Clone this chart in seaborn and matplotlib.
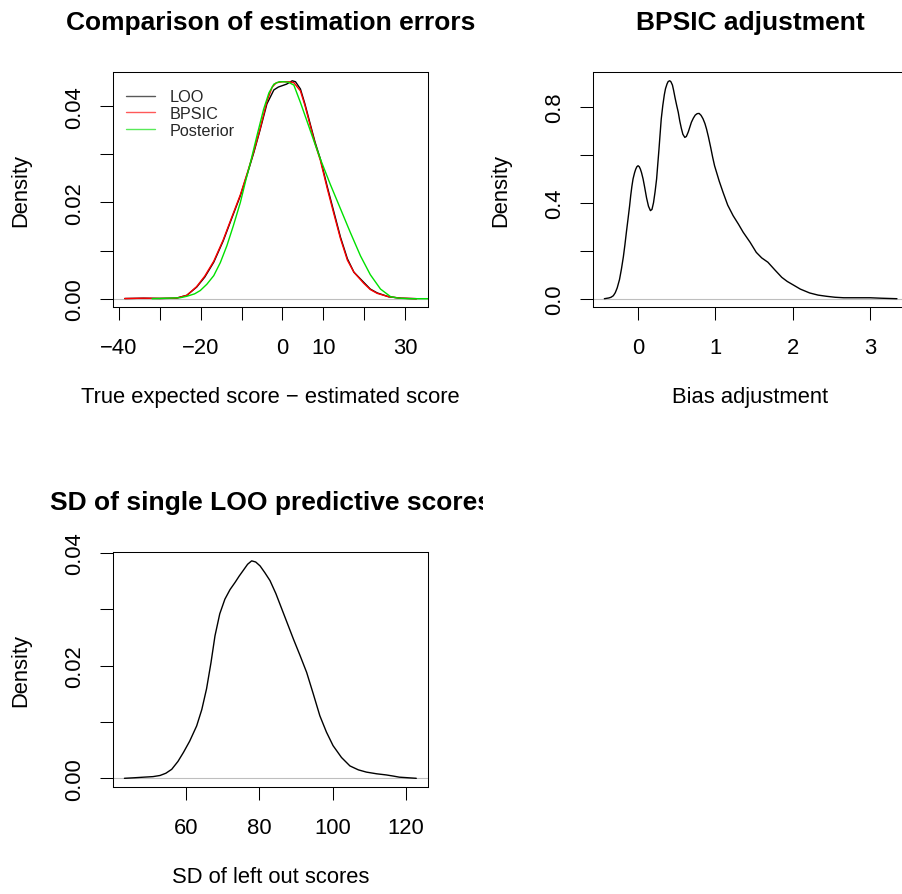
import numpy as np
import pandas as pd
import matplotlib
matplotlib.use("Agg")
import matplotlib.pyplot as plt
import seaborn as sns
from matplotlib.transforms import Bbox, TransformedBbox

# ---- estimation error densities (x, density) ----
loo_x = [-38.6, -34, -30, -26, -23.4, -21, -19, -16.8, -14.5, -12.5, -10.3, -8.5, -7.0, -5.5,
         -3.8, -2.1, -1.0, 0.0, 1.0, 2.4, 3.2, 4.4, 5.5, 6.9, 8.0, 9.3, 11.0, 12.6, 14.2, 15.9,
         17.5, 19.9, 21.5, 23.2, 26.0, 29.0, 32.8]
loo_y = [0.00003, 0.0001, 0.00005, 0.0001, 0.0007, 0.0024, 0.0045, 0.0076, 0.0120, 0.0165,
         0.0214, 0.0262, 0.0304, 0.0350, 0.0405, 0.0434, 0.0440, 0.0443, 0.0446, 0.0453,
         0.0451, 0.0436, 0.0405, 0.0360, 0.0325, 0.0290, 0.0232, 0.0180, 0.0128, 0.0083,
         0.0055, 0.0034, 0.0020, 0.0012, 0.0004, 0.0001, 0.0000]

bpsic_x = [-38.6, -34, -30, -26, -23.4, -21, -19, -16.8, -14.5, -12.5, -10.3, -8.5, -7.0, -5.5,
           -3.8, -2.5, -1.5, 0.0, 1.5, 2.8, 4.4, 5.5, 6.9, 8.0, 9.3, 11.0, 12.6, 14.2, 15.9,
           17.5, 19.9, 21.5, 23.2, 26.0, 29.0, 32.8]
bpsic_y = [0.00003, 0.0001, 0.00005, 0.0001, 0.0007, 0.0025, 0.0047, 0.0078, 0.0122, 0.0167,
           0.0216, 0.0264, 0.0306, 0.0352, 0.0410, 0.0440, 0.0449, 0.0451, 0.0451, 0.0449,
           0.0432, 0.0402, 0.0357, 0.0322, 0.0287, 0.0228, 0.0176, 0.0125, 0.0080, 0.0055,
           0.0032, 0.0019, 0.0011, 0.0004, 0.0001, 0.0000]

post_x = [-31.9, -28, -25, -23.4, -21.5, -20.1, -18.5, -16.8, -15.2, -13.6, -12.0, -10.3, -9.0,
          -7.8, -6.2, -4.6, -3.3, -2.1, -0.8, 0.3, 1.5, 2.8, 4.4, 6.1, 7.7, 9.3, 11.7, 14.2,
          16.6, 19.1, 21.5, 24.0, 26.5, 28.5, 31.0, 35.7]
post_y = [0.0000, 0.0001, 0.0002, 0.0005, 0.0010, 0.0017, 0.0030, 0.0048, 0.0075, 0.0110,
          0.0152, 0.0200, 0.0245, 0.0284, 0.0340, 0.0394, 0.0428, 0.0446, 0.0451, 0.0451,
          0.0450, 0.0444, 0.0408, 0.0367, 0.0328, 0.0290, 0.0238, 0.0187, 0.0138, 0.0089,
          0.0050, 0.0020, 0.0004, 0.0001, 0.0000, 0.0000]

# ---- BPSIC bias adjustment density ----
bias_x = [-0.436, -0.38, -0.35, -0.32, -0.295, -0.27, -0.24, -0.215, -0.19, -0.17, -0.15,
          -0.13, -0.11, -0.095, -0.08, -0.065, -0.045, -0.03, -0.015, 0.0, 0.015, 0.03, 0.045,
          0.065, 0.085, 0.11, 0.135, 0.16, 0.18, 0.20, 0.22, 0.24, 0.255, 0.27, 0.285, 0.30,
          0.32, 0.34, 0.355, 0.375, 0.39, 0.41, 0.425, 0.445, 0.46, 0.48, 0.50, 0.52, 0.54,
          0.56, 0.58, 0.605, 0.625, 0.65, 0.67, 0.69, 0.715, 0.74, 0.765, 0.79, 0.815, 0.84,
          0.865, 0.886, 0.91, 0.94, 0.965, 0.99, 1.05, 1.10, 1.16, 1.23, 1.30, 1.36, 1.45,
          1.53, 1.60, 1.68, 1.77, 1.86, 1.93, 2.01, 2.10, 2.22, 2.33, 2.44, 2.55, 2.66, 2.85,
          3.0, 3.15, 3.35]
bias_y = [0.0, 0.003, 0.006, 0.0125, 0.025, 0.045, 0.08, 0.124, 0.175, 0.225, 0.28, 0.332,
          0.385, 0.43, 0.468, 0.499, 0.525, 0.54, 0.55, 0.554, 0.55, 0.54, 0.525, 0.499,
          0.465, 0.42, 0.385, 0.367, 0.372, 0.40, 0.445, 0.499, 0.56, 0.62, 0.685, 0.749,
          0.805, 0.85, 0.875, 0.895, 0.905, 0.908, 0.904, 0.89, 0.868, 0.835, 0.805, 0.777,
          0.74, 0.71, 0.685, 0.672, 0.676, 0.695, 0.715, 0.735, 0.752, 0.765, 0.771, 0.772,
          0.764, 0.750, 0.730, 0.707, 0.675, 0.63, 0.59, 0.554, 0.49, 0.443, 0.39, 0.346,
          0.31, 0.277, 0.235, 0.193, 0.170, 0.152, 0.12, 0.089, 0.072, 0.057, 0.04, 0.024,
          0.015, 0.01, 0.006, 0.004, 0.004, 0.004, 0.002, 0.0]

# ---- SD of left-out scores density ----
sd_x = [43.2, 46, 48.4, 51, 52.9, 54.5, 56.1, 57.8, 59.3, 61, 62.9, 64.3, 65.6, 66.8, 67.9,
        69.2, 70.6, 72, 73.4, 74.5, 75.6, 76.8, 77.9, 79, 80.2, 81.5, 82.9, 84.5, 86.1, 87.7,
        89.3, 91.1, 92.9, 94.7, 96.5, 98.3, 100.1, 102.4, 104.7, 107, 109.2, 112, 114.6,
        116.5, 118.2, 120.5, 122.8]
sd_y = [0.0000, 0.0001, 0.0002, 0.0003, 0.0005, 0.0009, 0.0016, 0.0030, 0.0046, 0.0066,
        0.0093, 0.0122, 0.0159, 0.0205, 0.0253, 0.0292, 0.0318, 0.0335, 0.0348, 0.0359,
        0.0369, 0.0380, 0.0386, 0.0384, 0.0377, 0.0365, 0.0351, 0.0328, 0.0301, 0.0274,
        0.0247, 0.0218, 0.0188, 0.0150, 0.0111, 0.0082, 0.0058, 0.0037, 0.0022, 0.0015,
        0.0011, 0.0008, 0.0006, 0.0004, 0.0002, 0.0001, 0.0000]

methods = ["LOO", "BPSIC", "Posterior"]
method_colors = {"LOO": "black", "BPSIC": "#ff0000", "Posterior": "#00e000"}

titles = ["Comparison of estimation errors", "BPSIC adjustment",
          "SD of single LOO predictive scores"]
xlabels = ["True expected score \u2212 estimated score", "Bias adjustment",
           "SD of left out scores"]

sns.set_style("ticks")
plt.rcParams["font.family"] = ["Liberation Sans", "DejaVu Sans"]
plt.rcParams["lines.solid_joinstyle"] = "round"

W, H = 902, 895
fig = plt.figure(figsize=(W / 100, H / 100), dpi=100)


def place(left, top, width, height):
    return [left / W, 1 - (top + height) / H, width / W, height / H]


ax1 = fig.add_axes(place(112.7, 72.7, 315.6, 235.3))
ax2 = fig.add_axes(place(592.7, 72.7, 315.6, 235.0))
ax3 = fig.add_axes(place(112.7, 553.3, 315.6, 234.4))

FS = 15.8

# panel 1: three density curves
err_df = pd.concat([
    pd.DataFrame({"x": loo_x, "density": loo_y, "method": "LOO"}),
    pd.DataFrame({"x": bpsic_x, "density": bpsic_y, "method": "BPSIC"}),
    pd.DataFrame({"x": post_x, "density": post_y, "method": "Posterior"}),
], ignore_index=True)
sns.lineplot(data=err_df, x="x", y="density", hue="method", hue_order=methods,
             palette=method_colors, sort=False, estimator=None, units="method",
             lw=1.0, ax=ax1)

sns.lineplot(x=bias_x, y=bias_y, color="black", lw=1.0, sort=False, estimator=None, ax=ax2)
sns.lineplot(x=sd_x, y=sd_y, color="black", lw=1.0, sort=False, estimator=None, ax=ax3)


def style(ax, xlim, ylim, xticks, xticklabels, yticks, yticklabels, title, xlabel, height):
    ax.axhline(0, color="#BEBEBE", lw=0.8, zorder=1.5)
    ax.set_xlim(xlim)
    ax.set_ylim(ylim)
    ax.set_xticks(xticks)
    ax.set_xticklabels(xticklabels)
    ax.set_yticks(yticks)
    ax.set_yticklabels(yticklabels, rotation=90, va="center")
    ax.tick_params(direction="out", length=9.4, width=0.75, color="black",
                   labelsize=FS, labelcolor="black")
    ax.tick_params(axis="x", pad=12.5)
    ax.tick_params(axis="y", pad=10.5)
    for s in ax.spines.values():
        s.set_visible(True)
        s.set_linewidth(0.75)
        s.set_color("black")
    ax.set_title(title, fontsize=19, fontweight="bold", pad=31, color="black")
    ax.set_xlabel(xlabel, fontsize=FS, color="black")
    ax.set_ylabel("Density", fontsize=FS, color="black")
    ax.xaxis.set_label_coords(0.5, -90 / height)
    ax.xaxis.label.set_verticalalignment("center")
    ax.yaxis.set_label_coords(-92 / 315.6, 0.5)
    ax.yaxis.label.set_verticalalignment("center")


style(ax1, (-41.54, 35.70), (-0.00173, 0.04719),
      [-40, -30, -20, -10, 0, 10, 20, 30],
      ["\u221240", "", "\u221220", "", "0", "10", "", "30"],
      [0, 0.01, 0.02, 0.03, 0.04], ["0.00", "", "0.02", "", "0.04"],
      titles[0], xlabels[0], 235.3)
style(ax2, (-0.587, 3.497), (-0.0333, 0.9458),
      [0, 1, 2, 3], ["0", "1", "2", "3"],
      [0, 0.2, 0.4, 0.6, 0.8], ["0.0", "", "0.4", "", "0.8"],
      titles[1], xlabels[1], 235.0)
style(ax3, (40.0, 126.08), (-0.00149, 0.04012),
      [60, 80, 100, 120], ["60", "80", "100", "120"],
      [0, 0.01, 0.02, 0.03, 0.04], ["0.00", "", "0.02", "", "0.04"],
      titles[2], xlabels[2], 234.4)

# legend without a frame in the upper-left corner
handles, labels = ax1.get_legend_handles_labels()
for h in handles:
    h.set_alpha(0.65)
ax1.legend(handles, labels, loc="upper left", bbox_to_anchor=(0.042, 0.925),
           frameon=False, fontsize=11.7, handlelength=1.8, handletextpad=0.9,
           labelspacing=0.1, borderpad=0, borderaxespad=0)

# the long title of the lower panel is cut at the edge of its column
col_clip = TransformedBbox(Bbox([[0, 0], [483 / W, 1]]), fig.transFigure)
ax3.title.set_clip_box(col_clip)
ax3.title.set_clip_on(True)

fig.savefig("out.png", dpi=100, facecolor="white")
